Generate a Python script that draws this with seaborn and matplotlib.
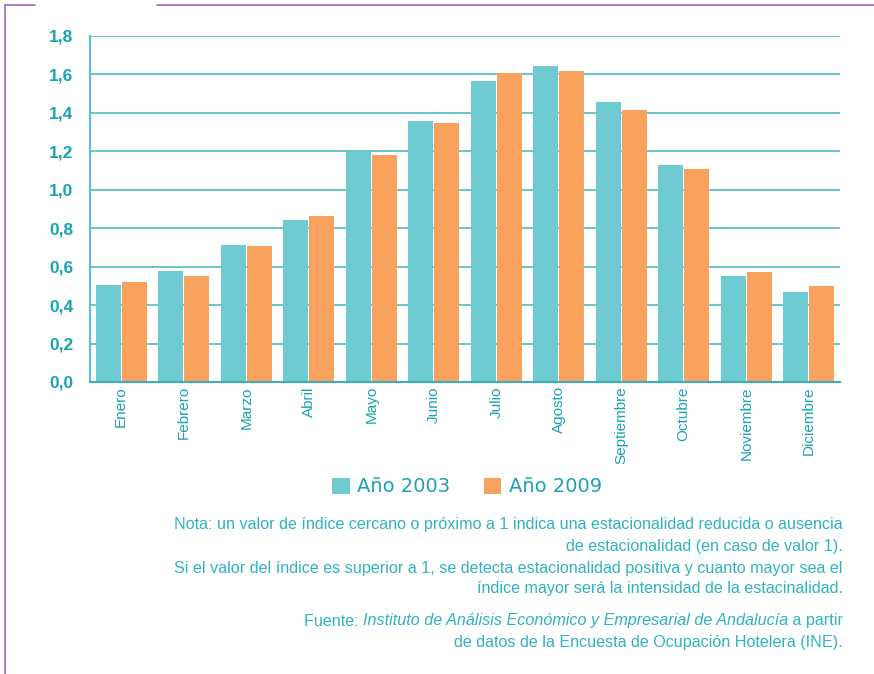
import matplotlib
matplotlib.use("Agg")
import matplotlib.pyplot as plt
import matplotlib.ticker as mticker
from matplotlib.patches import Patch
from matplotlib.lines import Line2D
import seaborn as sns
import pandas as pd

months = ["Enero", "Febrero", "Marzo", "Abril", "Mayo", "Junio", "Julio",
          "Agosto", "Septiembre", "Octubre", "Noviembre", "Diciembre"]
series_names = ["Año 2003", "Año 2009"]
values_2003 = [0.505, 0.575, 0.715, 0.845, 1.195, 1.36, 1.565, 1.643, 1.455, 1.127, 0.553, 0.47]
values_2009 = [0.522, 0.553, 0.71, 0.861, 1.179, 1.35, 1.61, 1.617, 1.414, 1.106, 0.574, 0.50]
y_ticks = [0.0, 0.2, 0.4, 0.6, 0.8, 1.0, 1.2, 1.4, 1.6, 1.8]

df = pd.DataFrame({
    "mes": months * 2,
    "serie": [series_names[0]] * 12 + [series_names[1]] * 12,
    "valor": values_2003 + values_2009,
})

TEAL = "#6ecbd2"
ORANGE = "#f8a25d"
TXT = "#1aa3b3"
GRID = "#5cc0c9"
PURPLE = "#a167b4"

sns.set_style("white")
plt.rcParams["font.family"] = ["Liberation Sans", "DejaVu Sans"]

fig = plt.figure(figsize=(8.74, 6.74), dpi=100)
ax = fig.add_axes([90 / 874, 1 - 382 / 674, 750 / 874, 346 / 674])

sns.barplot(data=df, x="mes", y="valor", hue="serie", order=months,
            hue_order=series_names, palette=[TEAL, ORANGE], width=0.84,
            gap=0.04, saturation=1, ax=ax, legend=False, edgecolor="none")

ax.set_xlim(-0.5, 11.5)
ax.set_ylim(0, 1.8)
ax.set_yticks(y_ticks)
ax.yaxis.set_major_formatter(mticker.FuncFormatter(lambda v, p: f"{v:.1f}".replace(".", ",")))
ax.grid(axis="y", color=GRID, linewidth=1.3)
ax.set_axisbelow(True)
ax.set_xlabel("")
ax.set_ylabel("")
for s in ["top", "right"]:
    ax.spines[s].set_visible(False)
ax.spines["left"].set_color(GRID)
ax.spines["left"].set_linewidth(1.5)
ax.spines["bottom"].set_color("#3aaebb")
ax.spines["bottom"].set_linewidth(1.5)
ax.tick_params(axis="both", length=0)
ax.tick_params(axis="y", pad=12, labelsize=12.5, labelcolor=TXT)
for t in ax.get_yticklabels():
    t.set_fontweight("bold")
ax.tick_params(axis="x", pad=3, labelcolor=TXT)
for t in ax.get_xticklabels():
    t.set_rotation(90)
    t.set_fontsize(11)

handles = [Patch(facecolor=TEAL, edgecolor="none"), Patch(facecolor=ORANGE, edgecolor="none")]
leg = fig.legend(handles, series_names, loc="center", bbox_to_anchor=(467 / 874, 1 - 487 / 674),
                 ncol=2, frameon=False, handlelength=0.9, handleheight=0.85, handletextpad=0.4,
                 columnspacing=1.7, prop={"size": 14, "family": "DejaVu Sans"})
for t in leg.get_texts():
    t.set_color(TXT)

note_kw = dict(ha="right", va="center", color="#2fb3c0", fontsize=11.6)
xr = 843 / 874
lines = [
    (525, "Nota: un valor de índice cercano o próximo a 1 indica una estacionalidad reducida o ausencia"),
    (547, "de estacionalidad (en caso de valor 1)."),
    (568, "Si el valor del índice es superior a 1, se detecta estacionalidad positiva y cuanto mayor sea el"),
    (589, "índice mayor será la intensidad de la estacinalidad."),
    (642, "de datos de la Encuesta de Ocupación Hotelera (INE)."),
]
for y, s in lines:
    fig.text(xr, 1 - y / 674, s, **note_kw)

# Fuente line with italic part
t3 = fig.text(xr, 1 - 621 / 674, " a partir", **note_kw)
fig.canvas.draw()
r = fig.canvas.get_renderer()
bb = t3.get_window_extent(r)
t2 = fig.text(bb.x0 / 874, 1 - 621 / 674,
              "Instituto de Análisis Económico y Empresarial de Andalucía",
              style="italic", **note_kw)
bb2 = t2.get_window_extent(r)
fig.text(bb2.x0 / 874, 1 - 621 / 674, "Fuente: ", **note_kw)

# decorative purple frame lines
fig.add_artist(Line2D([5 / 874, 5 / 874], [1 - 5 / 674, 0], color=PURPLE, lw=1.2))
fig.add_artist(Line2D([5 / 874, 35 / 874], [1 - 5 / 674, 1 - 5 / 674], color=PURPLE, lw=1.2))
fig.add_artist(Line2D([157 / 874, 1], [1 - 5 / 674, 1 - 5 / 674], color=PURPLE, lw=1.2))

fig.savefig("out.png", dpi=100)
